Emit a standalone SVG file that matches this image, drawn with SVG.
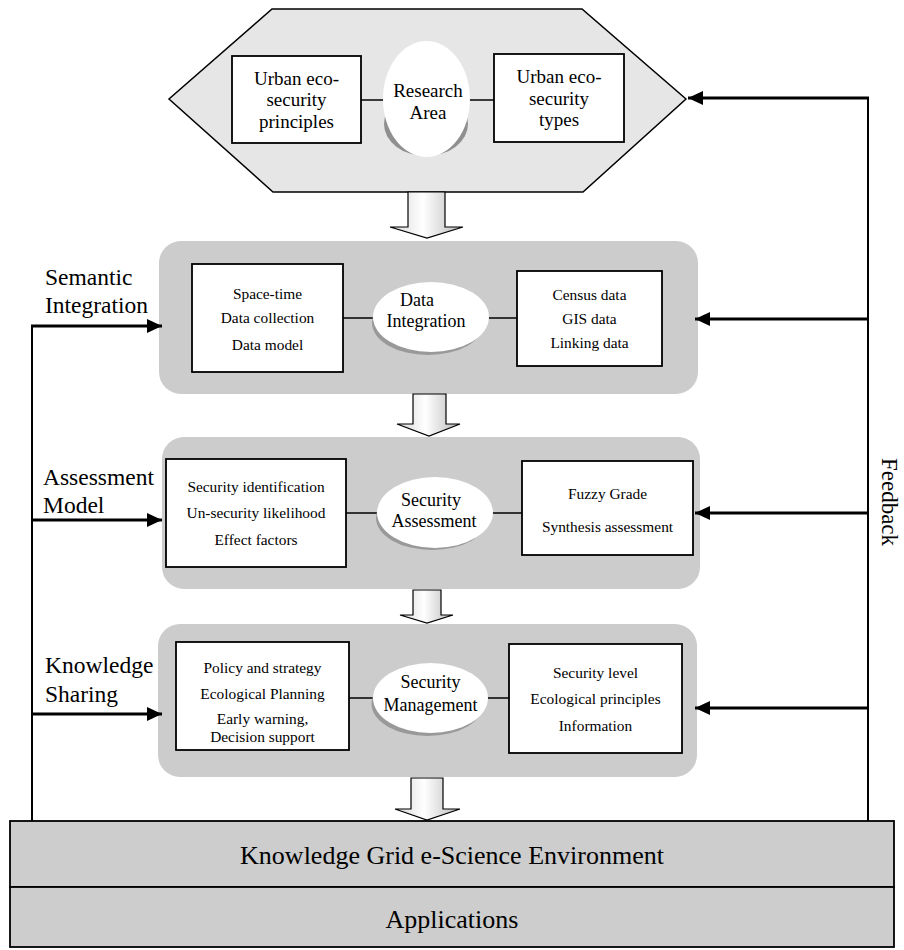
<svg xmlns="http://www.w3.org/2000/svg" width="904" height="950" viewBox="0 0 904 950">
<defs>
<style>
text{font-family:"Liberation Serif","Times New Roman",serif;fill:#000;text-anchor:middle}
.t19{font-size:19px}
.t18{font-size:18px}
.t15{font-size:15.4px}
.lab{font-size:23.5px;text-anchor:start}
.big{font-size:26px}
.box{fill:#fff;stroke:#000;stroke-width:1.8}
.panel{fill:#cccccc}
.ell{fill:#fff}
.shadow{fill:#999}
.link{stroke:#000;stroke-width:1.5;fill:none}
.fb{stroke:#000;stroke-width:3;fill:none}
.vl{stroke:#000;stroke-width:2;fill:none}
.blk{fill:url(#bg);stroke:#000;stroke-width:1.2}
</style>
<linearGradient id="bg" x1="0" y1="0" x2="1" y2="0">
<stop offset="0" stop-color="#d6d6d6"/>
<stop offset="0.45" stop-color="#ffffff"/>
<stop offset="1" stop-color="#b8b8b8"/>
</linearGradient>
<marker id="ah" markerUnits="userSpaceOnUse" markerWidth="16" markerHeight="16" viewBox="0 0 16 16" refX="15" refY="8" orient="auto">
<path d="M0,1 L15,8 L0,15 Z" fill="#000"/>
</marker>
</defs>

<g id="research-area">
<polygon points="272,9 582,9 686,99 583,192 273,192 169,99" fill="#e6e6e6" stroke="#000" stroke-width="1.5"/>
<line class="link" x1="361" y1="100" x2="384" y2="100"/>
<line class="link" x1="469" y1="100" x2="494" y2="100"/>
<rect class="box" x="232" y="56" width="129" height="87"/>
<text class="t19" x="296.5" y="85">Urban eco-</text>
<text class="t19" x="296.5" y="106">security</text>
<text class="t19" x="296.5" y="128">principles</text>
<rect class="box" x="494" y="54" width="130" height="88"/>
<text class="t19" x="559" y="83">Urban eco-</text>
<text class="t19" x="559" y="105">security</text>
<text class="t19" x="559" y="126">types</text>
<ellipse cx="426" cy="124" rx="42" ry="32" fill="#8f8f8f"/>
<ellipse class="ell" cx="426.5" cy="99" rx="43.5" ry="58"/>
<text class="t19" x="428" y="97">Research</text>
<text class="t19" x="428" y="119">Area</text>
</g>

<g id="data-integration">
<rect class="panel" x="159" y="241" width="539" height="153" rx="22"/>
<line class="link" x1="343" y1="318" x2="374" y2="318"/>
<line class="link" x1="488" y1="318" x2="517" y2="318"/>
<rect class="box" x="192" y="264" width="151" height="108"/>
<text class="t15" x="267.5" y="299">Space-time</text>
<text class="t15" x="267.5" y="323">Data collection</text>
<text class="t15" x="267.5" y="350">Data model</text>
<ellipse class="shadow" cx="428" cy="323" rx="56" ry="32"/>
<ellipse class="ell" cx="431" cy="317" rx="58" ry="35"/>
<text class="t18" x="417" y="306">Data</text>
<text class="t18" x="426" y="327">Integration</text>
<rect class="box" x="517" y="271" width="145" height="95"/>
<text class="t15" x="589.5" y="300">Census data</text>
<text class="t15" x="589.5" y="324">GIS data</text>
<text class="t15" x="589.5" y="348">Linking data</text>
</g>

<g id="security-assessment">
<rect class="panel" x="162" y="437" width="538" height="152" rx="22"/>
<line class="link" x1="346" y1="513" x2="378" y2="513"/>
<line class="link" x1="492" y1="513" x2="522" y2="513"/>
<rect class="box" x="166" y="459" width="180" height="108"/>
<text class="t15" x="256" y="492">Security identification</text>
<text class="t15" x="256" y="518">Un-security likelihood</text>
<text class="t15" x="256" y="545">Effect factors</text>
<ellipse class="shadow" cx="432" cy="518" rx="56" ry="32"/>
<ellipse class="ell" cx="435" cy="512.5" rx="58" ry="35.5"/>
<text class="t18" x="431" y="506">Security</text>
<text class="t18" x="434" y="527">Assessment</text>
<rect class="box" x="522" y="461" width="171" height="94"/>
<text class="t15" x="607.5" y="499">Fuzzy Grade</text>
<text class="t15" x="607.5" y="532">Synthesis assessment</text>
</g>

<g id="security-management">
<rect class="panel" x="158" y="624" width="539" height="153" rx="22"/>
<line class="link" x1="349" y1="698" x2="374" y2="698"/>
<line class="link" x1="487" y1="698" x2="509" y2="698"/>
<rect class="box" x="176" y="642" width="173" height="108"/>
<text class="t15" x="262.5" y="673">Policy and strategy</text>
<text class="t15" x="262.5" y="699">Ecological Planning</text>
<text class="t15" x="262.5" y="724">Early warning,</text>
<text class="t15" x="262.5" y="742">Decision support</text>
<ellipse class="shadow" cx="427.5" cy="704" rx="56" ry="32"/>
<ellipse class="ell" cx="430.5" cy="698" rx="57.5" ry="35"/>
<text class="t18" x="430.5" y="688">Security</text>
<text class="t18" x="430.5" y="711">Management</text>
<rect class="box" x="509" y="644" width="173" height="109"/>
<text class="t15" x="595.5" y="678">Security level</text>
<text class="t15" x="595.5" y="704">Ecological principles</text>
<text class="t15" x="595.5" y="731">Information</text>
</g>

<g id="knowledge-grid">
<rect x="10" y="821" width="884" height="66" fill="#cdcdcd" stroke="#000" stroke-width="1.8"/>
<text class="big" x="452" y="864">Knowledge Grid e-Science Environment</text>
</g>
<g id="applications">
<rect x="10" y="887" width="884" height="60" fill="#cdcdcd" stroke="#000" stroke-width="1.8"/>
<text class="big" x="452" y="928">Applications</text>
</g>

<g id="labels">
<text class="lab" x="45" y="285">Semantic</text>
<text class="lab" x="45" y="313">Integration</text>
<text class="lab" x="43" y="485">Assessment</text>
<text class="lab" x="43" y="513">Model</text>
<text class="lab" x="45" y="673">Knowledge</text>
<text class="lab" x="45" y="702">Sharing</text>
<text class="lab" style="text-anchor:middle;font-size:23px" transform="translate(882,502) rotate(90)">Feedback</text>
</g>

<g id="connectors">
<polygon class="blk" points="408,192 445,192 445,227 463,227 427,238 390,227 408,227"/>
<polygon class="blk" points="413,394 446,394 446,424 460,424 429,436 397,424 413,424"/>
<polygon class="blk" points="413,590 441,590 441,615 453,615 427,623 400,615 413,615"/>
<polygon class="blk" points="411,778 443,778 443,809 460,809 427,820 395,809 411,809"/>
<line class="vl" x1="32" y1="326" x2="32" y2="821"/>
<line class="fb" x1="31" y1="326" x2="162" y2="326" marker-end="url(#ah)"/>
<line class="fb" x1="31" y1="520" x2="162" y2="520" marker-end="url(#ah)"/>
<line class="fb" x1="31" y1="714" x2="162" y2="714" marker-end="url(#ah)"/>
<line class="vl" x1="868" y1="98" x2="868" y2="821"/>
<line class="fb" x1="869" y1="98" x2="688" y2="98" marker-end="url(#ah)"/>
<line class="fb" x1="869" y1="319" x2="695" y2="319" marker-end="url(#ah)"/>
<line class="fb" x1="869" y1="513" x2="695" y2="513" marker-end="url(#ah)"/>
<line class="fb" x1="869" y1="708" x2="695" y2="708" marker-end="url(#ah)"/>
</g>
</svg>
